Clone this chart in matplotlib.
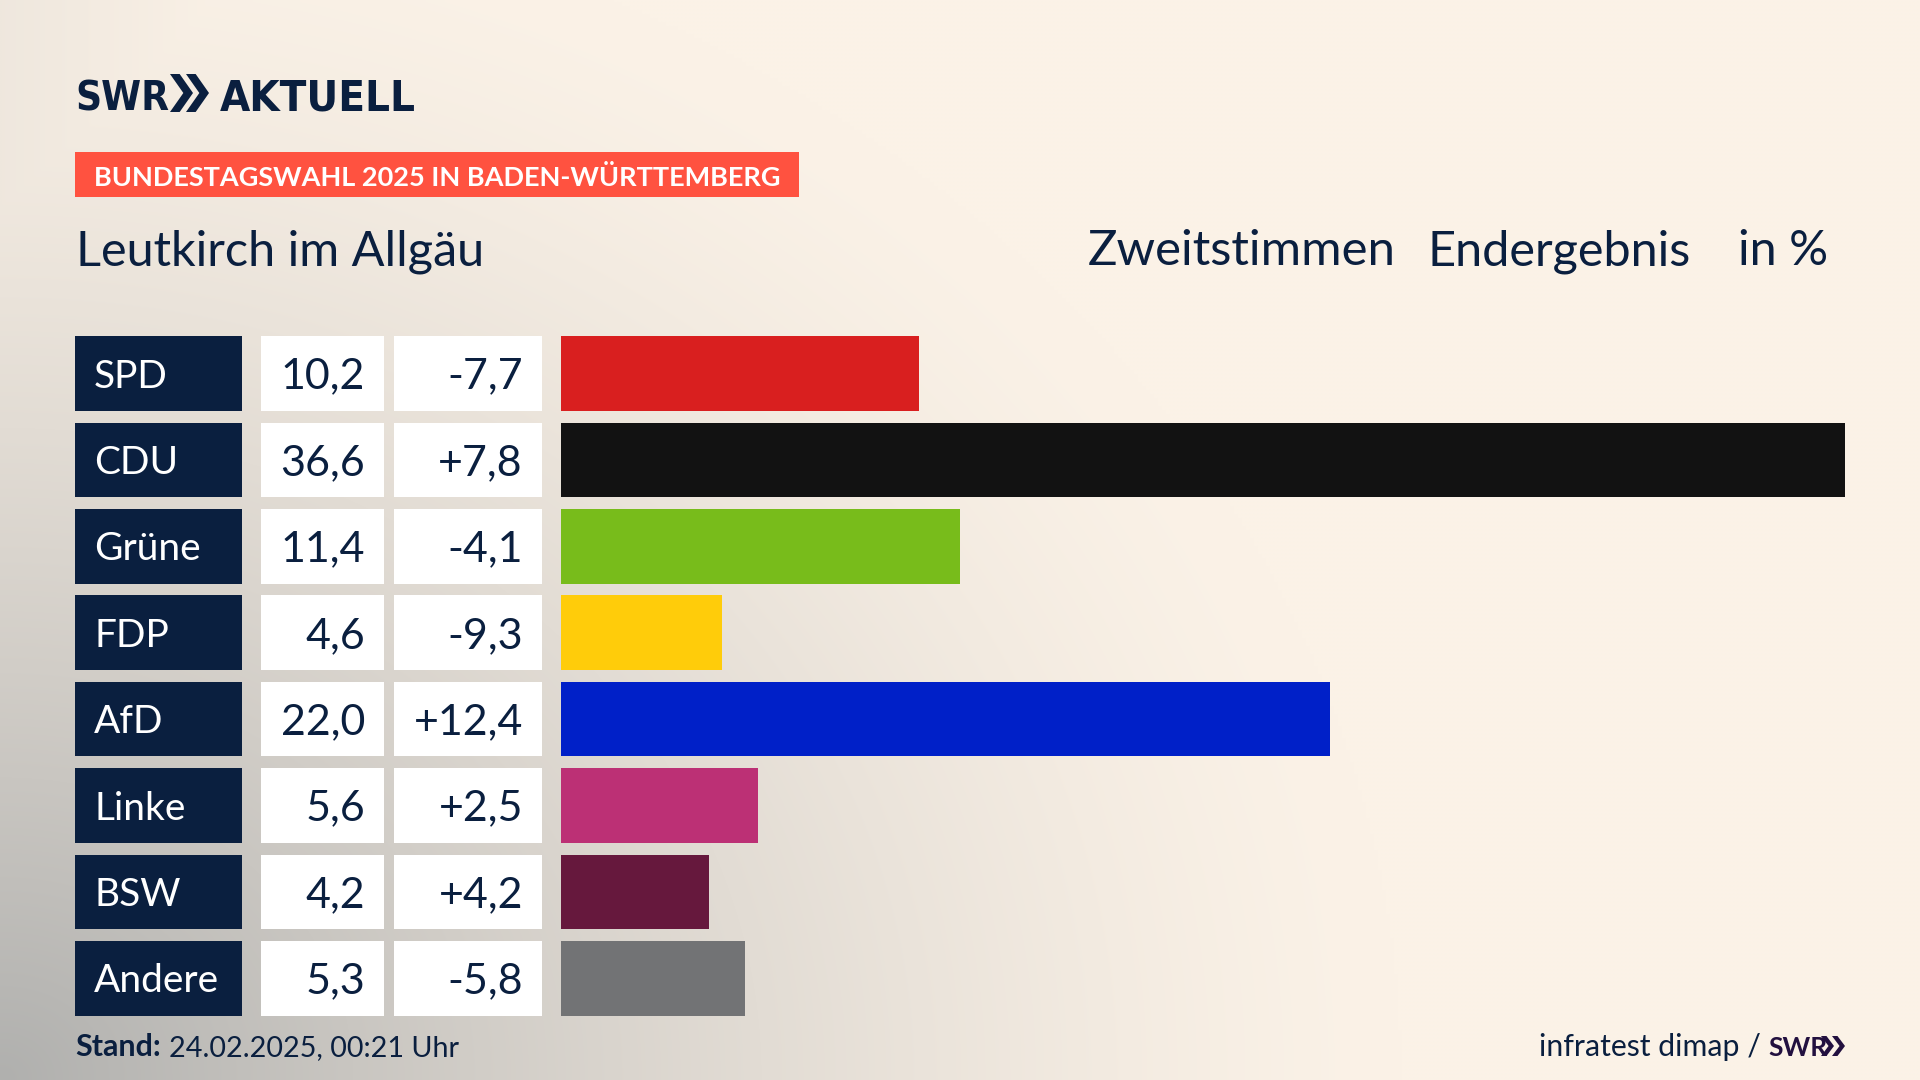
import numpy as np
import matplotlib
matplotlib.use("Agg")
import matplotlib.pyplot as plt
from matplotlib.patches import Polygon, Rectangle

parties = ["SPD", "CDU", "Grüne", "FDP", "AfD", "Linke", "BSW", "Andere"]
share_labels = ["10,2", "36,6", "11,4", "4,6", "22,0", "5,6", "4,2", "5,3"]
shares = [10.2, 36.6, 11.38, 4.6, 21.93, 5.62, 4.23, 5.25]
changes = ["-7,7", "+7,8", "-4,1", "-9,3", "+12,4", "+2,5", "+4,2", "-5,8"]
colors = ["#D91F1F", "#121212", "#78BC1B", "#FFCC0A", "#0020C8", "#BC3075", "#66183D", "#727375"]

NAVY = "#0A1F3F"
FONT = ["Lato", "Noto Sans", "DejaVu Sans"]
plt.rcParams["font.family"] = FONT

W, H = 1920, 1080
fig = plt.figure(figsize=(W / 100, H / 100), dpi=100)

ax = fig.add_axes([0, 0, 1, 1])
ax.set_xlim(0, W)
ax.set_ylim(H, 0)
ax.axis("off")

# background
yy, xx = np.mgrid[0:H:270j, 0:W:480j]
d = np.sqrt((xx / 1400) ** 2 + ((H - yy) / 1200) ** 2)
a = np.clip(1 - d, 0, 1) ** 1.4
a = np.maximum(a, 0.16 * np.clip(1 - xx / 260, 0, 1))
cream = np.array([251, 242, 231]) / 255
gray = np.array([176, 176, 174]) / 255
bg = cream[None, None, :] * (1 - a[..., None]) + gray[None, None, :] * a[..., None]
ax.imshow(bg, extent=[0, W, H, 0], aspect="auto", zorder=0, interpolation="bilinear")

ROW_TOP, PITCH, ROW_H = 336.3, 86.39, 74.5
row_center = lambda i: ROW_TOP + ROW_H / 2 + PITCH * i

for i, (p, s, c) in enumerate(zip(parties, share_labels, changes)):
    y = row_center(i)
    ax.add_patch(Rectangle((75, y - ROW_H / 2), 167, ROW_H, fc=NAVY, ec="none", zorder=2))
    ax.add_patch(Rectangle((261, y - ROW_H / 2), 123, ROW_H, fc="white", ec="none", zorder=2))
    ax.add_patch(Rectangle((394, y - ROW_H / 2), 148, ROW_H, fc="white", ec="none", zorder=2))
    ax.text(94, y - 0.5, p, color="white", fontsize=28, va="center_baseline", ha="left", zorder=3)
    ax.text(365, y - 0.5, s, color=NAVY, fontsize=31, va="center_baseline", ha="right", zorder=3)
    ax.text(523, y - 0.5, c, color=NAVY, fontsize=31, va="center_baseline", ha="right", zorder=3)

bx = fig.add_axes([561 / W, 1 - (ROW_TOP + ROW_H / 2 + PITCH * 7.5) / H, (1845 - 561) / W, PITCH * 8 / H])
bx.set_xlim(0, 36.6)
bx.set_ylim(7.5, -0.5)
bx.axis("off")
bx.barh(range(len(parties)), shares, height=ROW_H / PITCH, color=colors)


def chevrons(x0, y0, h, w, gap, color):
    for k in range(2):
        xs = x0 + k * gap
        ax.add_patch(Polygon([(xs, y0), (xs + w * 0.42, y0), (xs + w, y0 + h / 2),
                              (xs + w * 0.42, y0 + h), (xs, y0 + h), (xs + w * 0.58, y0 + h / 2)],
                             closed=True, fc=color, ec="none", zorder=3))


LOGO = dict(color=NAVY, fontweight="bold", va="baseline", ha="left",
            family=["DejaVu Sans"], stretch="condensed")
ax.text(75, 110.5, "SWR", fontsize=29, **LOGO)
chevrons(170, 74, 38, 23, 16, NAVY)
ax.text(220, 110.5, "AKTUELL", fontsize=31.3, **LOGO)

ax.add_patch(Rectangle((75, 152), 724, 45, fc="#FF5240", ec="none", zorder=2))
ax.text(94, 175, "BUNDESTAGSWAHL 2025 IN BADEN-WÜRTTEMBERG", color="white", fontsize=19.55,
        fontweight="bold", va="center_baseline", ha="left", zorder=3)

ax.text(76, 265, "Leutkirch im Allgäu", color=NAVY, fontsize=35, va="baseline", ha="left")
ax.text(1088, 265, "Zweitstimmen", color=NAVY, fontsize=35.4, va="baseline", ha="left")
ax.text(1428, 265, "Endergebnis", color=NAVY, fontsize=35, va="baseline", ha="left")
ax.text(1738, 265, "in %", color=NAVY, fontsize=35, va="baseline", ha="left")

ax.text(75, 1056, "Stand:", color=NAVY, fontsize=22, fontweight="bold", va="baseline", ha="left")
ax.text(169, 1056, "24.02.2025, 00:21 Uhr", color=NAVY, fontsize=20.7, va="baseline", ha="left")
ax.text(1761, 1056, "infratest dimap /", color=NAVY, fontsize=21.8, va="baseline", ha="right")
ax.text(1768, 1056, "SWR", color="#22103F", fontsize=19, fontweight="bold", va="baseline", ha="left")
chevrons(1821, 1036, 20, 13, 11, "#22103F")

fig.savefig("out.png", dpi=100)
